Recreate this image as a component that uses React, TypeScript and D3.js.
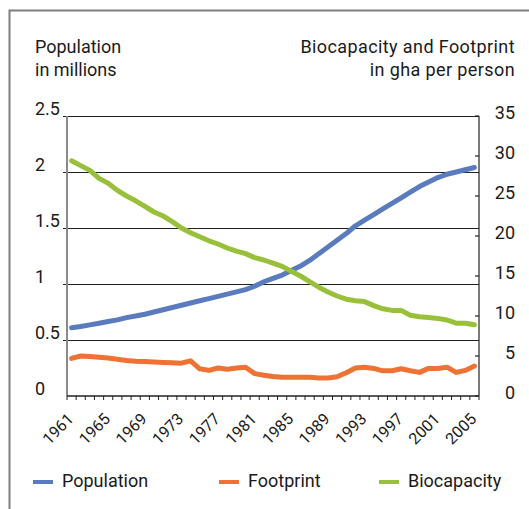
import React from 'react';
import * as d3 from 'd3';

// years on the x axis
const years: number[] = d3.range(1961, 2006);

// population (left axis)
const population: number[] = [
  0.61, 0.62, 0.635, 0.65, 0.665, 0.68, 0.7, 0.715, 0.73, 0.75,
  0.77, 0.79, 0.81, 0.83, 0.85, 0.87, 0.89, 0.91, 0.93, 0.95,
  0.98, 1.02, 1.05, 1.08, 1.12, 1.16, 1.21, 1.27, 1.33, 1.39,
  1.45, 1.52, 1.57, 1.62, 1.67, 1.72, 1.77, 1.82, 1.87, 1.91,
  1.95, 1.98, 2.0, 2.02, 2.04,
];

// footprint, gha per person (right axis)
const footprint: number[] = [
  4.7, 5.0, 4.95, 4.85, 4.75, 4.6, 4.45, 4.35, 4.3, 4.25,
  4.2, 4.15, 4.1, 4.4, 3.4, 3.2, 3.5, 3.35, 3.5, 3.6,
  2.8, 2.6, 2.45, 2.35, 2.35, 2.35, 2.35, 2.25, 2.25, 2.4,
  2.9, 3.5, 3.6, 3.45, 3.15, 3.15, 3.4, 3.15, 2.95, 3.45,
  3.45, 3.6, 2.95, 3.2, 3.75,
];

// biocapacity, gha per person (right axis)
const biocapacity: number[] = [
  29.4, 28.8, 28.2, 27.2, 26.6, 25.7, 25.0, 24.4, 23.7, 23.0,
  22.5, 21.8, 21.0, 20.4, 19.9, 19.4, 19.0, 18.5, 18.1, 17.8,
  17.3, 17.0, 16.6, 16.2, 15.6, 15.0, 14.3, 13.6, 13.0, 12.5,
  12.1, 11.9, 11.8, 11.3, 10.9, 10.7, 10.7, 10.1, 9.9, 9.8,
  9.7, 9.5, 9.1, 9.1, 8.9,
];

const leftTicks: number[] = [0, 0.5, 1, 1.5, 2, 2.5];
const rightTicks: number[] = [0, 5, 10, 15, 20, 25, 30, 35];
const yearLabels: number[] = years.filter((y) => (y - 1961) % 4 === 0);

const series = [
  { name: 'Population', color: '#5b7bbf', values: population, axis: 'left' },
  { name: 'Footprint', color: '#ee7233', values: footprint, axis: 'right' },
  { name: 'Biocapacity', color: '#98c03a', values: biocapacity, axis: 'right' },
];

const W = 529;
const H = 509;
const margin = { top: 116, right: 50, bottom: 113, left: 67 };
const FONT = 'Roboto, "DejaVu Sans", sans-serif';

const App: React.FC = () => {
  const x0 = margin.left;
  const x1 = W - margin.right;
  const yTop = margin.top;
  const yBot = H - margin.bottom;

  const xScale = d3.scaleBand<number>().domain(years).range([x0, x1]);
  const cx = (y: number) => (xScale(y) as number) + xScale.bandwidth() / 2;

  const yLeft = d3.scaleLinear().domain([0, 2.5]).range([yBot, yTop]);
  const yRight = d3.scaleLinear().domain([0, 35]).range([yBot, yTop]);

  // tick marks sit on band boundaries
  const boundaries = years.map((y) => xScale(y) as number).concat([x1]);

  return (
    <svg
      width={W}
      height={H}
      style={{ position: 'absolute', left: 0, top: 0, background: '#fff' }}
      fontFamily={FONT}
    >
      {/* frame */}
      <path d={`M9.5,${H} V10.5 H${W}`} fill="none" stroke="#7f7f7f" strokeWidth={2} />

      {/* titles */}
      <text x={35} y={53} fontSize={18} fill="#1a1a1a">Population</text>
      <text x={35} y={76} fontSize={18} fill="#1a1a1a">in millions</text>
      <text x={515} y={53} fontSize={18} fill="#1a1a1a" textAnchor="end" letterSpacing={0.4}>
        Biocapacity and Footprint
      </text>
      <text x={515} y={76} fontSize={18} fill="#1a1a1a" textAnchor="end" letterSpacing={0.4}>
        in gha per person
      </text>

      {/* gridlines + left labels */}
      {leftTicks.map((t) => (
        <g key={`l${t}`}>
          {t > 0 && (
            <line
              x1={x0 - 4}
              x2={x1}
              y1={Math.round(yLeft(t)) + 0.5}
              y2={Math.round(yLeft(t)) + 0.5}
              stroke="#222"
              strokeWidth={1.2}
            />
          )}
          <text x={35} y={yLeft(t) - 1} fontSize={18} fill="#1a1a1a">
            {t}
          </text>
        </g>
      ))}

      {/* left axis */}
      <line x1={x0} x2={x0} y1={yTop} y2={yBot} stroke="#8a8a8a" strokeWidth={2} />

      {/* right axis */}
      <line x1={x1} x2={x1} y1={yTop} y2={yBot} stroke="#222" strokeWidth={1.2} />
      {rightTicks.map((t) => (
        <g key={`r${t}`}>
          <line x1={x1 - 4} x2={x1} y1={yRight(t)} y2={yRight(t)} stroke="#222" strokeWidth={1.2} />
          <text x={515} y={yRight(t) + 3} fontSize={18} fill="#1a1a1a" textAnchor="end">
            {t}
          </text>
        </g>
      ))}

      {/* bottom axis */}
      <line x1={x0} x2={x1} y1={yBot} y2={yBot} stroke="#222" strokeWidth={1.5} />
      {boundaries.map((b, i) => (
        <line key={`b${i}`} x1={b} x2={b} y1={yBot} y2={yBot + 4} stroke="#222" strokeWidth={1} />
      ))}
      {yearLabels.map((y) => (
        <text
          key={`y${y}`}
          transform={`translate(${cx(y) + 3},${yBot + 24}) rotate(-45)`}
          fontSize={16}
          fill="#1a1a1a"
          textAnchor="end"
        >
          {y}
        </text>
      ))}

      {/* lines */}
      {series.map((s) => {
        const ys = s.axis === 'left' ? yLeft : yRight;
        const line = d3
          .line<number>()
          .x((_, i) => cx(years[i]))
          .y((v) => ys(v));
        return (
          <path
            key={s.name}
            d={line(s.values) || ''}
            fill="none"
            stroke={s.color}
            strokeWidth={5}
            strokeLinejoin="round"
            strokeLinecap="round"
          />
        );
      })}

      {/* legend */}
      {series.map((s, i) => {
        const lx = [33, 219, 379][i];
        return (
          <g key={`lg${s.name}`}>
            <rect x={lx} y={480} width={20} height={4} fill={s.color} />
            <text x={lx + 29} y={487} fontSize={18} fill="#1a1a1a">
              {s.name}
            </text>
          </g>
        );
      })}
    </svg>
  );
};

export default App;
